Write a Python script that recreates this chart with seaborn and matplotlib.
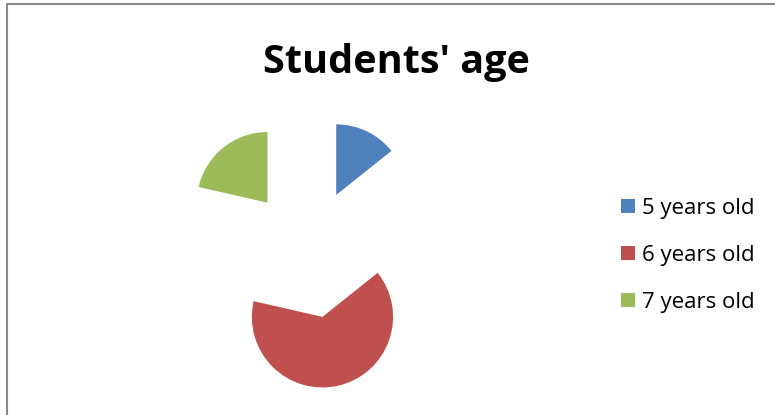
import matplotlib
matplotlib.use("Agg")
import matplotlib.pyplot as plt
from matplotlib.patches import Rectangle
import seaborn as sns

# Students counted per age group
ages = ["5 years old", "6 years old", "7 years old"]
students = [4, 18, 6]
colors = ["#4F81BD", "#C0504D", "#9BBB59"]
title = "Students' age"

sns.set_theme(style="white")
plt.rcParams["font.family"] = ["Open Sans", "DejaVu Sans"]

W, H = 775, 415
fig = plt.figure(figsize=(W / 100, H / 100), dpi=100)
fig.patch.set_facecolor("white")
ax = fig.add_axes([0, 0, 1, 1])

# Pie laid out in pixel units (y measured upward); explode is an absolute offset
cx, cy, r = 308, H - 253.5, 70.6
palette = sns.color_palette(colors)
wedges, _ = ax.pie(
    students,
    colors=palette,
    startangle=90,
    counterclock=False,
    explode=[65] * len(students),
    radius=r,
    center=(cx, cy),
    wedgeprops=dict(linewidth=0),
)
ax.set_xlim(0, W)
ax.set_ylim(0, H)
ax.set_aspect("equal")
ax.axis("off")

# Chart frame (runs off the right and bottom edges)
fig.patches.append(Rectangle((6.5 / W, -0.1), 2.0, 1.1 - 4.5 / H,
                             transform=fig.transFigure, fill=False,
                             edgecolor="#8a8a8a", linewidth=1.5))

fig.text(396 / W, 1 - 73 / H, title, ha="center", va="baseline",
         fontsize=28.5, fontweight="bold", color="black")

# Legend: colour swatch plus label for each age group
sq = 14
for i, (label, c) in enumerate(zip(ages, palette)):
    yc = 205.7 + i * 47.2
    ax.add_patch(Rectangle((621, H - yc - sq / 2), sq, sq, facecolor=c,
                           edgecolor="none"))
    ax.text(642, H - yc, label, ha="left", va="center_baseline",
            fontsize=16, color="black")

fig.savefig("out.png", dpi=100, facecolor="white")
